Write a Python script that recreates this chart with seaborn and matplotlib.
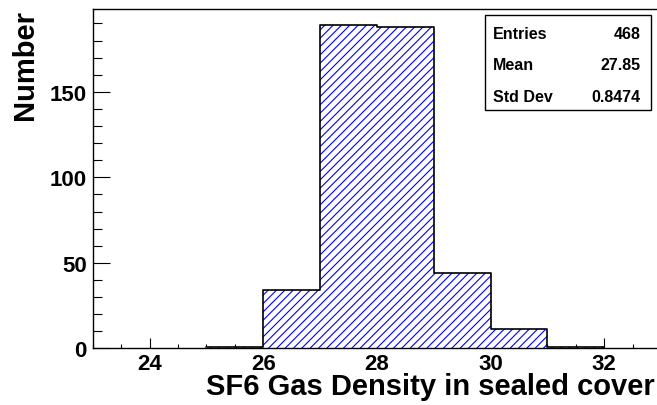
import numpy as np
import pandas as pd
import matplotlib
matplotlib.use("Agg")
import matplotlib.pyplot as plt
from matplotlib.patches import Rectangle
from matplotlib.ticker import MultipleLocator
import seaborn as sns

# histogram bins (edges) and counts
bin_edges = [25, 26, 27, 28, 29, 30, 31, 32]
bin_counts = [1, 34, 189, 188, 44, 11, 1]

stat_names = ["Entries", "Mean", "Std Dev"]
stat_values = ["468", "27.85", "0.8474"]

x_title = "SF6 Gas Density in sealed cover"
y_title = "Number"

sns.set_style("ticks")
plt.rcParams["font.family"] = ["Liberation Sans", "DejaVu Sans"]
plt.rcParams["font.weight"] = "bold"
plt.rcParams["hatch.linewidth"] = 0.8
for key in ["text.color", "axes.labelcolor", "xtick.color", "ytick.color"]:
    plt.rcParams[key] = "black"

df = pd.DataFrame({
    "centre": np.array(bin_edges[:-1]) + 0.5,
    "count": bin_counts,
})

fig = plt.figure(figsize=(6.57, 4.06), dpi=100)
ax = fig.add_axes([92.7 / 657, (406 - 349.3) / 406, (661 - 92.7) / 657, 339.3 / 406])

# hatched fill
sns.histplot(data=df, x="centre", weights="count", bins=bin_edges, ax=ax,
             element="bars", fill=True, facecolor="white", edgecolor="blue",
             hatch="////", linewidth=0, alpha=1)
# black outline
sns.histplot(data=df, x="centre", weights="count", bins=bin_edges, ax=ax,
             element="step", fill=False, color="black", linewidth=1.2)

ax.set_xlim(23, 33)
ax.set_ylim(0, 198.45)

ax.xaxis.set_major_locator(MultipleLocator(2))
ax.xaxis.set_minor_locator(MultipleLocator(0.5))
ax.yaxis.set_major_locator(MultipleLocator(50))
ax.yaxis.set_minor_locator(MultipleLocator(10))

ax.tick_params(axis="x", which="major", direction="in", length=7, width=0.8,
               labelsize=16, pad=3.4, top=False, colors="black")
ax.tick_params(axis="x", which="minor", direction="in", length=3.2, width=0.8, top=False)
ax.tick_params(axis="y", which="major", direction="in", length=12.2, width=0.8,
               labelsize=16, pad=4.3, right=False, colors="black")
ax.tick_params(axis="y", which="minor", direction="in", length=6.5, width=0.8, right=False)
for lab in ax.get_xticklabels() + ax.get_yticklabels():
    lab.set_fontweight("bold")

for sp in ax.spines.values():
    sp.set_visible(True)
    sp.set_color("black")
    sp.set_linewidth(1.0)

ax.set_xlabel(x_title, fontsize=21, fontweight="bold", loc="right", color="black")
ax.xaxis.set_label_coords(0.9894, -0.07)
ax.set_ylabel(y_title, fontsize=21, fontweight="bold", loc="top", color="black")
ax.yaxis.set_label_coords(-0.095, 1.0)

# statistics box
fig.patches.append(Rectangle((485 / 657, 1 - 111 / 406), (651 - 485) / 657, (111 - 16) / 406,
                             transform=fig.transFigure, facecolor="white",
                             edgecolor="black", linewidth=1.0, zorder=5))
for name, val, base in zip(stat_names, stat_values, [39.3, 70.0, 101.5]):
    fig.text(492.7 / 657, 1 - base / 406, name, fontsize=11.5, fontweight="bold",
             ha="left", va="baseline", zorder=6, color="black")
    fig.text(640.7 / 657, 1 - base / 406, val, fontsize=11.5, fontweight="bold",
             ha="right", va="baseline", zorder=6, color="black")

fig.savefig("out.png", dpi=100)
